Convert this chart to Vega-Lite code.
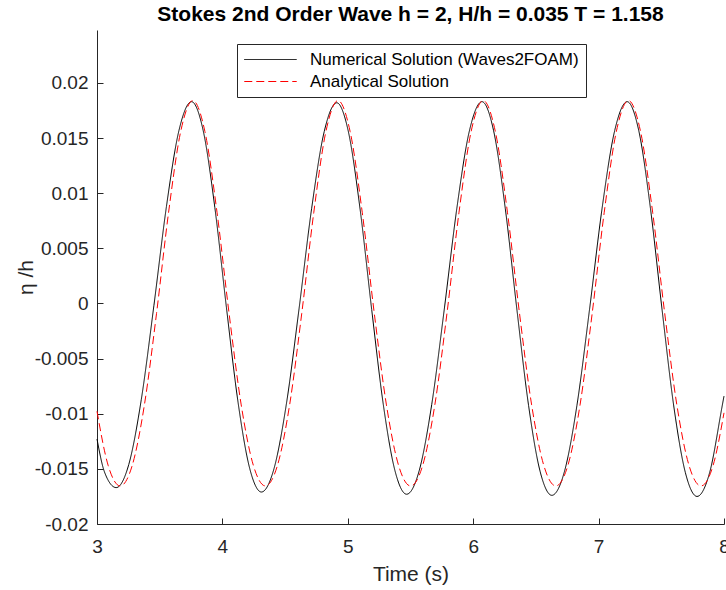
{
  "$schema": "https://vega.github.io/schema/vega-lite/v6.json",
  "width": 627,
  "height": 494,
  "autosize": {"type": "none"},
  "padding": {"left": 97, "top": 30, "right": 2, "bottom": 66},
  "background": "#ffffff",
  "title": {"text": "Stokes 2nd Order Wave h = 2, H/h = 0.035 T = 1.158", "font": "Liberation Sans", "fontSize": 21, "fontWeight": "bold", "color": "#000000", "offset": 5, "anchor": "middle"},
  "datasets": {
    "num": [
      {"t": 3.000, "v": -0.0123, "s": "Numerical Solution (Waves2FOAM)"},
      {"t": 3.0602, "v": -0.0153, "s": "Numerical Solution (Waves2FOAM)"},
      {"t": 3.153, "v": -0.0167, "s": "Numerical Solution (Waves2FOAM)"},
      {"t": 3.2532, "v": -0.01461, "s": "Numerical Solution (Waves2FOAM)"},
      {"t": 3.3534, "v": -0.0087, "s": "Numerical Solution (Waves2FOAM)"},
      {"t": 3.4536, "v": -0.0002, "s": "Numerical Solution (Waves2FOAM)"},
      {"t": 3.5538, "v": 0.0088, "s": "Numerical Solution (Waves2FOAM)"},
      {"t": 3.654, "v": 0.01571, "s": "Numerical Solution (Waves2FOAM)"},
      {"t": 3.754, "v": 0.0183, "s": "Numerical Solution (Waves2FOAM)"},
      {"t": 3.8468, "v": 0.01568, "s": "Numerical Solution (Waves2FOAM)"},
      {"t": 3.9397, "v": 0.0087, "s": "Numerical Solution (Waves2FOAM)"},
      {"t": 4.0325, "v": -0.0004, "s": "Numerical Solution (Waves2FOAM)"},
      {"t": 4.1253, "v": -0.009, "s": "Numerical Solution (Waves2FOAM)"},
      {"t": 4.2182, "v": -0.01498, "s": "Numerical Solution (Waves2FOAM)"},
      {"t": 4.311, "v": -0.0171, "s": "Numerical Solution (Waves2FOAM)"},
      {"t": 4.4112, "v": -0.01499, "s": "Numerical Solution (Waves2FOAM)"},
      {"t": 4.5114, "v": -0.00903, "s": "Numerical Solution (Waves2FOAM)"},
      {"t": 4.6116, "v": -0.00045, "s": "Numerical Solution (Waves2FOAM)"},
      {"t": 4.7118, "v": 0.00863, "s": "Numerical Solution (Waves2FOAM)"},
      {"t": 4.812, "v": 0.01559, "s": "Numerical Solution (Waves2FOAM)"},
      {"t": 4.912, "v": 0.0182, "s": "Numerical Solution (Waves2FOAM)"},
      {"t": 5.0048, "v": 0.01557, "s": "Numerical Solution (Waves2FOAM)"},
      {"t": 5.0977, "v": 0.00858, "s": "Numerical Solution (Waves2FOAM)"},
      {"t": 5.1905, "v": -0.00055, "s": "Numerical Solution (Waves2FOAM)"},
      {"t": 5.2833, "v": -0.00918, "s": "Numerical Solution (Waves2FOAM)"},
      {"t": 5.3762, "v": -0.01517, "s": "Numerical Solution (Waves2FOAM)"},
      {"t": 5.469, "v": -0.0173, "s": "Numerical Solution (Waves2FOAM)"},
      {"t": 5.5692, "v": -0.01517, "s": "Numerical Solution (Waves2FOAM)"},
      {"t": 5.6694, "v": -0.00915, "s": "Numerical Solution (Waves2FOAM)"},
      {"t": 5.7696, "v": -0.0005, "s": "Numerical Solution (Waves2FOAM)"},
      {"t": 5.8698, "v": 0.00865, "s": "Numerical Solution (Waves2FOAM)"},
      {"t": 5.97, "v": 0.01567, "s": "Numerical Solution (Waves2FOAM)"},
      {"t": 6.070, "v": 0.0183, "s": "Numerical Solution (Waves2FOAM)"},
      {"t": 6.1628, "v": 0.01566, "s": "Numerical Solution (Waves2FOAM)"},
      {"t": 6.2557, "v": 0.00863, "s": "Numerical Solution (Waves2FOAM)"},
      {"t": 6.3485, "v": -0.00055, "s": "Numerical Solution (Waves2FOAM)"},
      {"t": 6.4413, "v": -0.00923, "s": "Numerical Solution (Waves2FOAM)"},
      {"t": 6.5342, "v": -0.01526, "s": "Numerical Solution (Waves2FOAM)"},
      {"t": 6.627, "v": -0.0174, "s": "Numerical Solution (Waves2FOAM)"},
      {"t": 6.7272, "v": -0.01526, "s": "Numerical Solution (Waves2FOAM)"},
      {"t": 6.8274, "v": -0.00923, "s": "Numerical Solution (Waves2FOAM)"},
      {"t": 6.9276, "v": -0.00055, "s": "Numerical Solution (Waves2FOAM)"},
      {"t": 7.0278, "v": 0.00863, "s": "Numerical Solution (Waves2FOAM)"},
      {"t": 7.128, "v": 0.01566, "s": "Numerical Solution (Waves2FOAM)"},
      {"t": 7.228, "v": 0.0183, "s": "Numerical Solution (Waves2FOAM)"},
      {"t": 7.3208, "v": 0.01565, "s": "Numerical Solution (Waves2FOAM)"},
      {"t": 7.4137, "v": 0.0086, "s": "Numerical Solution (Waves2FOAM)"},
      {"t": 7.5065, "v": -0.0006, "s": "Numerical Solution (Waves2FOAM)"},
      {"t": 7.5993, "v": -0.0093, "s": "Numerical Solution (Waves2FOAM)"},
      {"t": 7.6922, "v": -0.01535, "s": "Numerical Solution (Waves2FOAM)"},
      {"t": 7.785, "v": -0.0175, "s": "Numerical Solution (Waves2FOAM)"},
      {"t": 7.8852, "v": -0.01535, "s": "Numerical Solution (Waves2FOAM)"},
      {"t": 7.9854, "v": -0.0093, "s": "Numerical Solution (Waves2FOAM)"},
      {"t": 8.000, "v": -0.0084, "s": "Numerical Solution (Waves2FOAM)"}
    ],
    "ana": [
      {"t": 3.000, "v": -0.00978, "s": "Analytical Solution"},
      {"t": 3.0885, "v": -0.01467, "s": "Analytical Solution"},
      {"t": 3.185, "v": -0.01655, "s": "Analytical Solution"},
      {"t": 3.2815, "v": -0.01467, "s": "Analytical Solution"},
      {"t": 3.378, "v": -0.0092, "s": "Analytical Solution"},
      {"t": 3.4745, "v": -0.000925, "s": "Analytical Solution"},
      {"t": 3.571, "v": 0.008275, "s": "Analytical Solution"},
      {"t": 3.6675, "v": 0.015596, "s": "Analytical Solution"},
      {"t": 3.764, "v": 0.0184, "s": "Analytical Solution"},
      {"t": 3.8605, "v": 0.015596, "s": "Analytical Solution"},
      {"t": 3.957, "v": 0.008275, "s": "Analytical Solution"},
      {"t": 4.0535, "v": -0.000925, "s": "Analytical Solution"},
      {"t": 4.150, "v": -0.0092, "s": "Analytical Solution"},
      {"t": 4.2465, "v": -0.01467, "s": "Analytical Solution"},
      {"t": 4.343, "v": -0.01655, "s": "Analytical Solution"},
      {"t": 4.4395, "v": -0.01467, "s": "Analytical Solution"},
      {"t": 4.536, "v": -0.0092, "s": "Analytical Solution"},
      {"t": 4.6325, "v": -0.000925, "s": "Analytical Solution"},
      {"t": 4.729, "v": 0.008275, "s": "Analytical Solution"},
      {"t": 4.8255, "v": 0.015596, "s": "Analytical Solution"},
      {"t": 4.922, "v": 0.0184, "s": "Analytical Solution"},
      {"t": 5.0185, "v": 0.015596, "s": "Analytical Solution"},
      {"t": 5.115, "v": 0.008275, "s": "Analytical Solution"},
      {"t": 5.2115, "v": -0.000925, "s": "Analytical Solution"},
      {"t": 5.308, "v": -0.0092, "s": "Analytical Solution"},
      {"t": 5.4045, "v": -0.01467, "s": "Analytical Solution"},
      {"t": 5.501, "v": -0.01655, "s": "Analytical Solution"},
      {"t": 5.5975, "v": -0.01467, "s": "Analytical Solution"},
      {"t": 5.694, "v": -0.0092, "s": "Analytical Solution"},
      {"t": 5.7905, "v": -0.000925, "s": "Analytical Solution"},
      {"t": 5.887, "v": 0.008275, "s": "Analytical Solution"},
      {"t": 5.9835, "v": 0.015596, "s": "Analytical Solution"},
      {"t": 6.080, "v": 0.0184, "s": "Analytical Solution"},
      {"t": 6.1765, "v": 0.015596, "s": "Analytical Solution"},
      {"t": 6.273, "v": 0.008275, "s": "Analytical Solution"},
      {"t": 6.3695, "v": -0.000925, "s": "Analytical Solution"},
      {"t": 6.466, "v": -0.0092, "s": "Analytical Solution"},
      {"t": 6.5625, "v": -0.01467, "s": "Analytical Solution"},
      {"t": 6.659, "v": -0.01655, "s": "Analytical Solution"},
      {"t": 6.7555, "v": -0.01467, "s": "Analytical Solution"},
      {"t": 6.852, "v": -0.0092, "s": "Analytical Solution"},
      {"t": 6.9485, "v": -0.000925, "s": "Analytical Solution"},
      {"t": 7.045, "v": 0.008275, "s": "Analytical Solution"},
      {"t": 7.1415, "v": 0.015596, "s": "Analytical Solution"},
      {"t": 7.238, "v": 0.0184, "s": "Analytical Solution"},
      {"t": 7.3345, "v": 0.015596, "s": "Analytical Solution"},
      {"t": 7.431, "v": 0.008275, "s": "Analytical Solution"},
      {"t": 7.5275, "v": -0.000925, "s": "Analytical Solution"},
      {"t": 7.624, "v": -0.0092, "s": "Analytical Solution"},
      {"t": 7.7205, "v": -0.01467, "s": "Analytical Solution"},
      {"t": 7.817, "v": -0.01655, "s": "Analytical Solution"},
      {"t": 7.9135, "v": -0.01467, "s": "Analytical Solution"},
      {"t": 8.000, "v": -0.00992, "s": "Analytical Solution"}
    ]
  },
  "encoding": {
    "x": {"field": "t", "type": "quantitative", "scale": {"domain": [3, 8], "nice": false, "zero": false},
          "axis": {"title": "Time (s)", "values": [3, 4, 5, 6, 7, 8], "format": "d", "labelPadding": 19, "titlePadding": 7}},
    "y": {"field": "v", "type": "quantitative", "scale": {"domain": [-0.02, 0.0248], "nice": false, "zero": false},
          "axis": {"title": "η /h", "values": [-0.02, -0.015, -0.01, -0.005, 0, 0.005, 0.01, 0.015, 0.02], "labelExpr": "toString(datum.value)", "labelPadding": 15, "titlePadding": -2}},
    "color": {"field": "s", "type": "nominal", "title": null,
              "scale": {"domain": ["Numerical Solution (Waves2FOAM)", "Analytical Solution"], "range": ["#000000", "#ff0000"]}},
    "strokeDash": {"field": "s", "type": "nominal", "title": null,
              "scale": {"domain": ["Numerical Solution (Waves2FOAM)", "Analytical Solution"], "range": [[1, 0], [8, 4]]}}
  },
  "layer": [
    {"data": {"name": "num"}, "mark": {"type": "line", "interpolate": "monotone", "strokeWidth": 1}},
    {"data": {"name": "ana"}, "mark": {"type": "line", "interpolate": "monotone", "strokeWidth": 1}}
  ],
  "config": {
    "view": {"stroke": null},
    "axis": {"grid": false, "domainColor": "#262626", "tickColor": "#262626", "labelColor": "#262626", "titleColor": "#262626",
             "labelFont": "Liberation Sans", "titleFont": "Liberation Sans", "labelFontSize": 19, "titleFontSize": 21,
             "titleFontWeight": "normal", "tickSize": -6, "domainWidth": 1, "tickWidth": 1, "labelFlush": false, "labelOverlap": false},
    "legend": {"orient": "none", "legendX": 140, "legendY": 14, "strokeColor": "#262626", "fillColor": "#ffffff", "padding": 7,
               "labelFont": "Liberation Sans", "labelFontSize": 17, "labelColor": "#000000", "labelLimit": 500,
               "symbolType": "M-5,0H5", "symbolSize": 110, "symbolStrokeWidth": 1, "symbolOffset": 18, "labelOffset": 31, "rowPadding": 4}
  }
}
